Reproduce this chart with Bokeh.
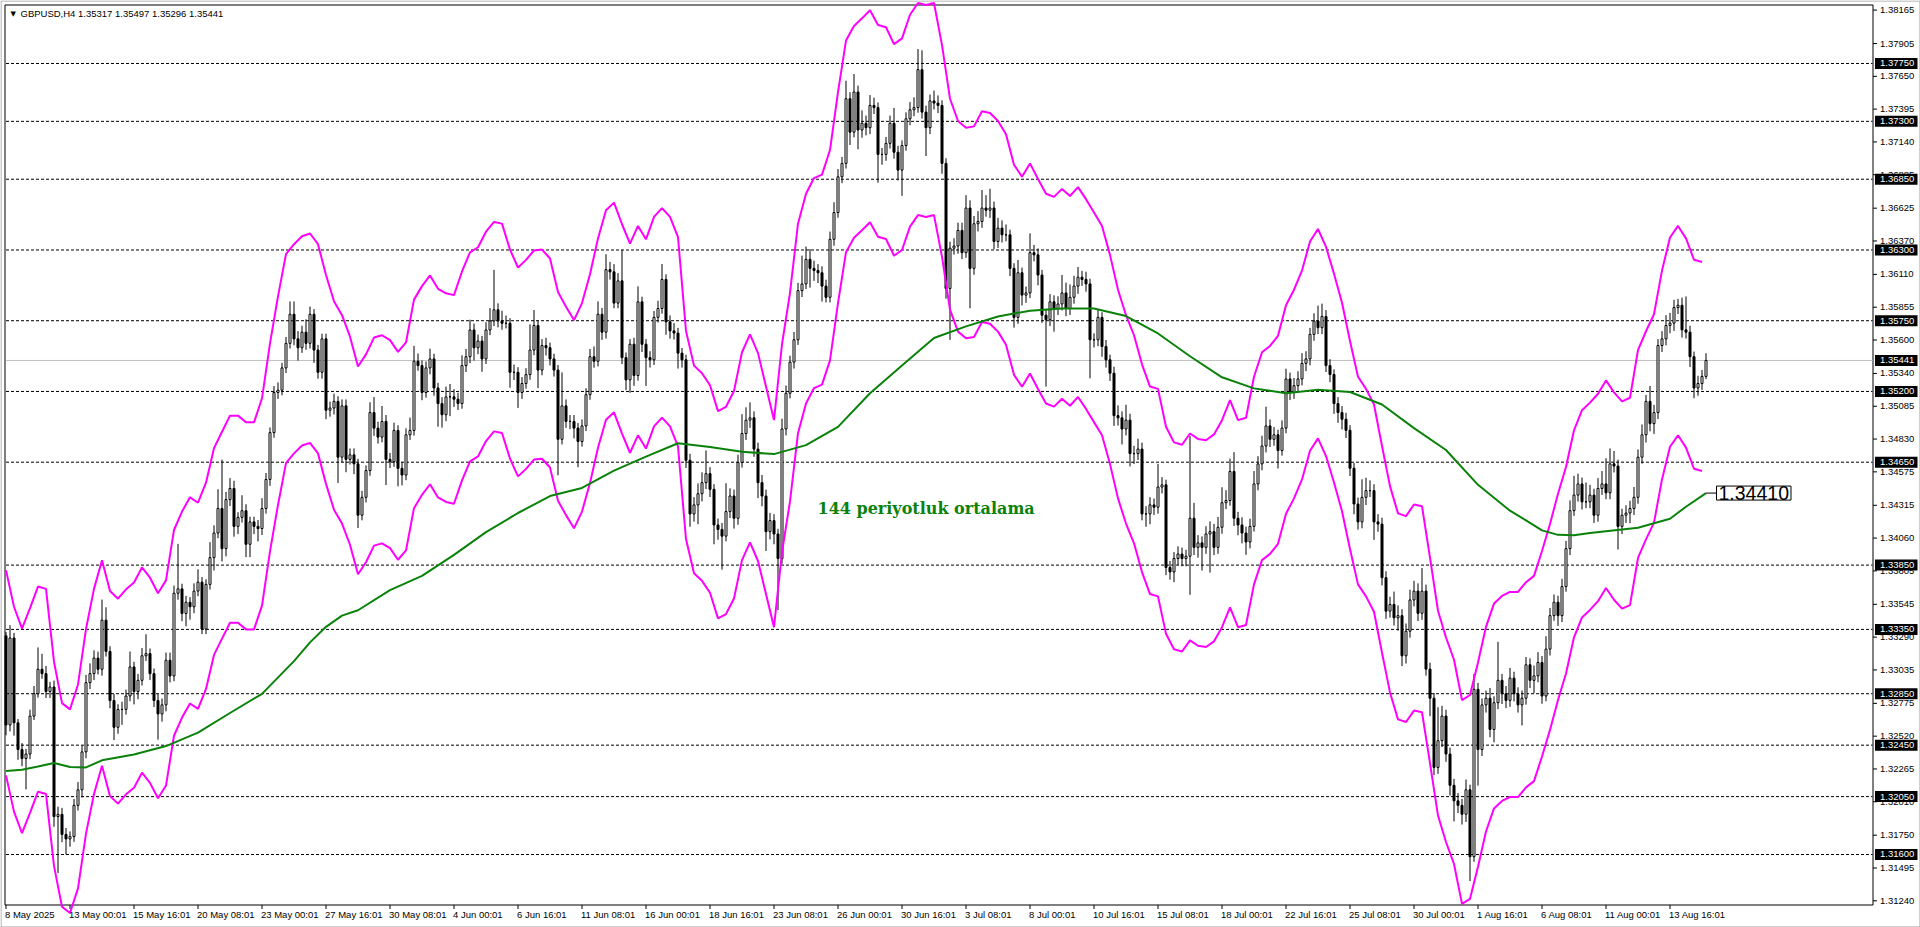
from bokeh.plotting import figure
from bokeh.models import Range1d, Label, LabelSet, ColumnDataSource
from bokeh.core.properties import value
from bokeh.embed import file_html
from bokeh.resources import INLINE

# ---------------- data ----------------
symbol = "GBPUSD,H4"
first_open = 1.33300
closes = [
    1.32607, 1.33283, 1.32624, 1.32416, 1.32346, 1.32381, 1.32676, 1.32850, 1.33040, 1.33006,
    1.32867, 1.32902, 1.31895, 1.31912, 1.31756, 1.31721, 1.31739, 1.31982, 1.32103, 1.32398,
    1.32936, 1.33006, 1.33127, 1.33040, 1.33422, 1.33179, 1.32797, 1.32589, 1.32728, 1.32728,
    1.32832, 1.33058, 1.32867, 1.32954, 1.33145, 1.33162, 1.33006, 1.32797, 1.32693, 1.32763,
    1.33110, 1.32988, 1.33631, 1.33665, 1.33474, 1.33561, 1.33526, 1.33648, 1.33717, 1.33353,
    1.33700, 1.33908, 1.34099, 1.34290, 1.33978, 1.34359, 1.34446, 1.34151, 1.34221, 1.34273,
    1.34012, 1.34186, 1.34151, 1.34134, 1.34290, 1.34516, 1.34880, 1.35192, 1.35210, 1.35383,
    1.35574, 1.35800, 1.35609, 1.35540, 1.35661, 1.35574, 1.35800, 1.35522, 1.35349, 1.35609,
    1.35054, 1.35071, 1.35123, 1.34689, 1.35088, 1.34672, 1.34707, 1.34637, 1.34238, 1.34377,
    1.34585, 1.35036, 1.34915, 1.34845, 1.34967, 1.34672, 1.34654, 1.34897, 1.34602, 1.34550,
    1.34863, 1.34897, 1.35435, 1.35401, 1.35192, 1.35383, 1.35453, 1.35227, 1.35106, 1.35019,
    1.35158, 1.35158, 1.35140, 1.35106, 1.35401, 1.35470, 1.35678, 1.35540, 1.35592, 1.35453,
    1.35678, 1.35748, 1.35835, 1.35748, 1.35730, 1.35730, 1.35349, 1.35349, 1.35192, 1.35262,
    1.35331, 1.35522, 1.35713, 1.35366, 1.35557, 1.35540, 1.35453, 1.35366, 1.34828, 1.35088,
    1.34967, 1.34967, 1.34915, 1.34811, 1.34932, 1.35175, 1.35470, 1.35435, 1.35800, 1.35661,
    1.36147, 1.36130, 1.35887, 1.36060, 1.35463, 1.35290, 1.35567, 1.35324, 1.35897, 1.35567,
    1.35463, 1.35446, 1.35776, 1.35845, 1.36071, 1.35741, 1.35671, 1.35654, 1.35498, 1.35446,
    1.34665, 1.34248, 1.34318, 1.34405, 1.34491, 1.34561, 1.34439, 1.34162, 1.34127, 1.34075,
    1.34266, 1.34387, 1.34214, 1.34648, 1.34873, 1.34977, 1.34995, 1.34752, 1.34491, 1.34387,
    1.34110, 1.34196, 1.34092, 1.33901, 1.34908, 1.35186, 1.35428, 1.35602, 1.35984, 1.36036,
    1.36227, 1.36157, 1.36140, 1.36123, 1.36019, 1.35932, 1.36383, 1.36591, 1.36869, 1.36973,
    1.37476, 1.37216, 1.37528, 1.37233, 1.37285, 1.37251, 1.37424, 1.37407, 1.37043, 1.37043,
    1.37129, 1.37285, 1.37060, 1.36921, 1.37112, 1.37320, 1.37390, 1.37407, 1.37702, 1.37372,
    1.37251, 1.37459, 1.37442, 1.37424, 1.36973, 1.36001, 1.36314, 1.36331, 1.36452, 1.36279,
    1.36626, 1.36157, 1.36504, 1.36522, 1.36626, 1.36609, 1.36626, 1.36366, 1.36470, 1.36418,
    1.36418, 1.36157, 1.35776, 1.36123, 1.35949, 1.35966, 1.36279, 1.36262, 1.36105, 1.35793,
    1.35758, 1.35897, 1.35845, 1.35880, 1.35966, 1.35845, 1.35932, 1.36019, 1.36088, 1.36071,
    1.36036, 1.35602, 1.35602, 1.35776, 1.35550, 1.35446, 1.35342, 1.35012, 1.34995, 1.34908,
    1.34977, 1.34717, 1.34717, 1.34752, 1.34248, 1.34248, 1.34318, 1.34300, 1.34457, 1.34474,
    1.33832, 1.33797, 1.33901, 1.33936, 1.33901, 1.33919, 1.34214, 1.33988, 1.34023, 1.33988,
    1.34092, 1.34110, 1.33988, 1.34144, 1.34335, 1.34352, 1.34578, 1.34214, 1.34162, 1.34099,
    1.34030, 1.34151, 1.34481, 1.34637, 1.34776, 1.34932, 1.34828, 1.34863, 1.34741, 1.34915,
    1.35297, 1.35193, 1.35245, 1.35297, 1.35418, 1.35453, 1.35644, 1.35748, 1.35696, 1.35783,
    1.35401, 1.35332, 1.35106, 1.35036, 1.34984, 1.34898, 1.34603, 1.34325, 1.34186, 1.34377,
    1.34429, 1.34429, 1.34186, 1.34169, 1.33752, 1.33492, 1.33544, 1.33440, 1.33457, 1.33145,
    1.33336, 1.33579, 1.33648, 1.33475, 1.33648, 1.33041, 1.32815, 1.32277, 1.32485, 1.32676,
    1.32381, 1.32138, 1.32017, 1.31982, 1.31913, 1.32103, 1.31583, 1.32884, 1.32416, 1.32763,
    1.32815, 1.32572, 1.32780, 1.32954, 1.32850, 1.32798, 1.32971, 1.32850, 1.32763, 1.32815,
    1.33075, 1.32954, 1.32989, 1.33093, 1.32832, 1.33197, 1.33457, 1.33561, 1.33457, 1.33683,
    1.33978, 1.34273, 1.34394, 1.34481, 1.34342, 1.34342, 1.34394, 1.34238, 1.34446, 1.34481,
    1.34412, 1.34637, 1.34620, 1.34151, 1.34238, 1.34255, 1.34290, 1.34377, 1.34689, 1.34863,
    1.35123, 1.34950, 1.35036, 1.35557, 1.35609, 1.35713, 1.35731, 1.35852, 1.35870, 1.35679,
    1.35661, 1.35470, 1.35227, 1.35262, 1.35317, 1.35441,
]
wick_up_pips = [
    3, 10, 4, 3, 5, 4, 5, 6, 17, 12, 6, 4, 5, 6, 5, 5, 4, 5, 6, 5,
    6, 8, 6, 5, 16, 10, 4, 5, 4, 6, 5, 12, 4, 5, 6, 15, 4, 4, 5, 5,
    6, 6, 6, 35, 4, 5, 4, 6, 10, 4, 4, 12, 6, 15, 38, 6, 8, 6, 4, 12,
    5, 4, 4, 5, 8, 5, 4, 5, 6, 4, 5, 10, 10, 6, 5, 10, 6, 4, 4, 4,
    4, 5, 6, 4, 5, 5, 5, 5, 4, 5, 4, 8, 12, 5, 12, 5, 5, 6, 4, 5,
    5, 10, 12, 6, 4, 5, 8, 4, 4, 5, 8, 10, 6, 5, 8, 6, 8, 5, 5, 4,
    6, 10, 31, 5, 8, 6, 4, 6, 4, 5, 5, 20, 12, 4, 5, 6, 4, 4, 4, 26,
    5, 5, 5, 4, 5, 5, 6, 8, 10, 5, 12, 6, 6, 6, 24, 4, 4, 5, 12, 4,
    4, 5, 5, 6, 12, 4, 5, 6, 4, 4, 4, 5, 6, 8, 8, 18, 5, 4, 5, 5,
    22, 6, 5, 6, 15, 10, 12, 5, 5, 6, 5, 6, 5, 4, 8, 6, 5, 6, 6, 22,
    10, 8, 6, 5, 5, 5, 6, 8, 6, 5, 14, 5, 14, 5, 10, 6, 8, 6, 4, 5,
    5, 6, 12, 5, 4, 5, 6, 8, 16, 15, 5, 5, 8, 6, 4, 4, 5, 6, 6, 6,
    10, 6, 6, 8, 14, 10, 15, 5, 8, 6, 8, 4, 4, 10, 4, 5, 15, 6, 5, 4,
    5, 6, 5, 6, 14, 8, 10, 8, 8, 5, 6, 4, 5, 6, 4, 5, 4, 5, 8, 5,
    12, 5, 6, 8, 5, 6, 6, 5, 18, 6, 4, 5, 5, 6, 5, 5, 64, 12, 6, 5,
    6, 8, 6, 8, 12, 8, 10, 15, 5, 6, 5, 6, 10, 6, 8, 15, 5, 6, 4, 6,
    8, 5, 6, 6, 8, 6, 5, 6, 12, 10, 5, 5, 4, 5, 5, 5, 4, 4, 5, 14,
    10, 8, 5, 6, 5, 5, 6, 10, 8, 5, 6, 8, 8, 6, 18, 5, 5, 4, 26, 8,
    5, 5, 5, 6, 5, 8, 4, 12, 5, 5, 6, 8, 5, 30, 5, 6, 8, 5, 5, 6,
    6, 5, 8, 8, 5, 10, 6, 6, 5, 6, 6, 8, 15, 8, 5, 15, 8, 5, 8, 10,
    20, 12, 10, 5, 5, 6, 6, 8, 6, 8, 5, 12, 6, 5, 6, 8, 8, 6, 5, 6,
    26, 5, 4, 6, 5, 5.6,
]
wick_down_pips = [
    8, 5, 10, 8, 6, 24, 4, 3, 3, 4, 5, 5, 8, 44, 6, 12, 6, 4, 4, 6,
    5, 5, 5, 4, 5, 4, 6, 10, 5, 12, 4, 4, 10, 6, 4, 4, 5, 5, 20, 6,
    5, 5, 4, 5, 6, 10, 10, 5, 4, 4, 4, 4, 10, 4, 10, 6, 5, 8, 6, 4,
    10, 10, 6, 10, 5, 4, 5, 4, 5, 4, 4, 4, 5, 10, 4, 5, 4, 10, 5, 5,
    7, 5, 5, 20, 4, 10, 4, 8, 10, 4, 4, 4, 6, 5, 4, 20, 5, 4, 14, 8,
    4, 4, 4, 4, 6, 4, 5, 6, 18, 10, 5, 15, 6, 5, 4, 5, 5, 10, 5, 10,
    4, 4, 4, 5, 5, 4, 12, 6, 12, 5, 4, 4, 4, 14, 4, 6, 5, 5, 28, 4,
    5, 6, 8, 20, 4, 4, 4, 5, 4, 6, 5, 6, 4, 4, 5, 8, 10, 8, 4, 6,
    22, 6, 4, 4, 4, 10, 6, 5, 12, 6, 6, 10, 6, 15, 6, 5, 6, 15, 8, 26,
    4, 5, 8, 5, 4, 5, 6, 6, 12, 8, 15, 6, 8, 40, 4, 5, 4, 5, 4, 5,
    4, 15, 8, 8, 12, 4, 4, 5, 4, 5, 4, 10, 4, 15, 6, 6, 5, 5, 22, 8,
    5, 4, 5, 8, 20, 4, 5, 5, 4, 5, 22, 5, 5, 6, 8, 8, 40, 5, 6, 5,
    4, 31, 5, 6, 5, 5, 6, 6, 5, 6, 5, 6, 8, 5, 8, 6, 4, 5, 8, 6,
    52, 5, 18, 5, 5, 6, 5, 5, 6, 5, 6, 30, 6, 5, 8, 6, 6, 8, 6, 12,
    5, 10, 8, 5, 5, 10, 8, 6, 5, 5, 6, 6, 8, 5, 6, 6, 30, 6, 8, 18,
    5, 30, 6, 5, 5, 5, 4, 6, 8, 8, 10, 5, 4, 5, 5, 5, 6, 5, 14, 4,
    4, 6, 5, 5, 5, 6, 5, 5, 5, 5, 5, 6, 8, 8, 8, 6, 6, 8, 6, 5,
    6, 5, 14, 6, 6, 6, 5, 6, 10, 8, 6, 5, 5, 6, 5, 5, 14, 6, 5, 5,
    6, 8, 16, 6, 8, 6, 19, 4, 28, 5, 6, 6, 10, 5, 8, 6, 5, 6, 6, 16,
    5, 6, 10, 5, 6, 4, 5, 4, 8, 5, 4, 5, 4, 5, 6, 5, 5, 6, 5, 5,
    5, 5, 5, 18, 6, 6, 8, 5, 5, 5, 6, 6, 8, 5, 5, 5, 6, 6, 5, 6,
    5, 8, 8, 6, 5, 2.1,
]
# envelope (upper line read every 2 bars, deviation 0.6 %)
envelope_step = 2
envelope_upper = [
    1.33811, 1.33526, 1.33356, 1.33516, 1.33683, 1.33665, 1.33099, 1.32777, 1.32728, 1.32922,
    1.33353, 1.33665, 1.33887, 1.33648, 1.33589, 1.33662, 1.33714, 1.33832, 1.33752, 1.33631,
    1.33731, 1.34123, 1.34266, 1.34377, 1.34335, 1.34491, 1.34759, 1.34887, 1.35012, 1.35012,
    1.34960, 1.34960, 1.35147, 1.35574, 1.35939, 1.36268, 1.36345, 1.36407, 1.36428, 1.36345,
    1.36105, 1.35901, 1.35793, 1.35626, 1.35394, 1.35488, 1.35619, 1.35637, 1.35599, 1.35508,
    1.35581, 1.35914, 1.36019, 1.36102, 1.35998, 1.35963, 1.35949, 1.36133, 1.36282, 1.36321,
    1.36442, 1.36518, 1.36505, 1.36303, 1.36164, 1.36223, 1.36296, 1.36303, 1.36234, 1.35973,
    1.35859, 1.35755, 1.35887, 1.36112, 1.36390, 1.36609, 1.36668, 1.36500, 1.36350, 1.36487,
    1.36383, 1.36557, 1.36626, 1.36557, 1.36400, 1.35671, 1.35401, 1.35342, 1.35248, 1.35047,
    1.35081, 1.35203, 1.35505, 1.35644, 1.35498, 1.35238, 1.34977, 1.35567, 1.35967, 1.36504,
    1.36737, 1.36859, 1.36886, 1.37077, 1.37528, 1.37928, 1.38042, 1.38101, 1.38164, 1.38049,
    1.38032, 1.37900, 1.37945, 1.38129, 1.38220, 1.38205, 1.38220, 1.37893, 1.37476, 1.37303,
    1.37251, 1.37261, 1.37379, 1.37365, 1.37303, 1.37199, 1.36963, 1.36869, 1.36973, 1.36852,
    1.36737, 1.36713, 1.36775, 1.36720, 1.36789, 1.36695, 1.36591, 1.36487, 1.36262, 1.35991,
    1.35793, 1.35637, 1.35411, 1.35238, 1.35220, 1.34925, 1.34804, 1.34786, 1.34873, 1.34831,
    1.34821, 1.34866, 1.34977, 1.35133, 1.34977, 1.34995, 1.35314, 1.35505, 1.35554, 1.35633,
    1.35870, 1.35991, 1.36140, 1.36366, 1.36463, 1.36324, 1.36116, 1.35890, 1.35592, 1.35314,
    1.35220, 1.35099, 1.34776, 1.34464, 1.34252, 1.34231, 1.34321, 1.34308, 1.33908, 1.33495,
    1.33287, 1.33114, 1.32800, 1.32840, 1.33093, 1.33370, 1.33551, 1.33610, 1.33641, 1.33641,
    1.33717, 1.33766, 1.33960, 1.34169, 1.34405, 1.34613, 1.34898, 1.35054, 1.35113, 1.35182,
    1.35286, 1.35193, 1.35123, 1.35151, 1.35522, 1.35668, 1.35800, 1.36140, 1.36397, 1.36487,
    1.36390, 1.36224, 1.36206,
]
envelope_deviation = 0.006
# 144-period moving average
ma_bars = [0, 4, 8, 12, 16, 20, 24, 32, 40, 48, 56, 64, 72, 76, 80, 84, 88, 96, 104, 112, 120,
           128, 136, 144, 152, 160, 168, 176, 184, 192, 200, 208, 216, 224, 232, 240, 248, 256,
           264, 272, 280, 288, 296, 304, 312, 320, 328, 336, 344, 352, 360, 368, 376, 380, 384,
           388, 392, 396, 400, 408, 416, 420, 425]
ma_values = [1.32249, 1.32259, 1.32284, 1.32312, 1.32280, 1.32277, 1.32332, 1.32377, 1.32443,
             1.32548, 1.32700, 1.32849, 1.33103, 1.33249, 1.33370, 1.33457, 1.33499, 1.33655,
             1.33766, 1.33929, 1.34106, 1.34255, 1.34387, 1.34450, 1.34585, 1.34693, 1.34797,
             1.34769, 1.34731, 1.34713, 1.34783, 1.34925, 1.35186, 1.35401, 1.35616, 1.35706,
             1.35783, 1.35828, 1.35845, 1.35845, 1.35786, 1.35651, 1.35474, 1.35310, 1.35224,
             1.35186, 1.35213, 1.35196, 1.35099, 1.34915, 1.34745, 1.34474, 1.34273, 1.34197,
             1.34120, 1.34085, 1.34082, 1.34099, 1.34113, 1.34141, 1.34210, 1.34304, 1.34410]
price_ticks = [1.38165, 1.37905, 1.37650, 1.37395, 1.37140, 1.36885, 1.36625, 1.36370, 1.36110,
               1.35855, 1.35600, 1.35340, 1.35085, 1.34830, 1.34575, 1.34315, 1.34060, 1.33805,
               1.33545, 1.33290, 1.33035, 1.32775, 1.32520, 1.32265, 1.32010, 1.31750, 1.31495,
               1.31240]
level_lines = [1.37750, 1.37300, 1.36850, 1.36300, 1.35750, 1.35200, 1.34650, 1.33850,
               1.33350, 1.32850, 1.32450, 1.32050, 1.31600]
bid_price = 1.35441
date_step = 16
date_labels = ["8 May 2025", "13 May 00:01", "15 May 16:01", "20 May 08:01", "23 May 00:01",
               "27 May 16:01", "30 May 08:01", "4 Jun 00:01", "6 Jun 16:01", "11 Jun 08:01",
               "16 Jun 00:01", "18 Jun 16:01", "23 Jun 08:01", "26 Jun 00:01", "30 Jun 16:01",
               "3 Jul 08:01", "8 Jul 00:01", "10 Jul 16:01", "15 Jul 08:01", "18 Jul 00:01",
               "22 Jul 16:01", "25 Jul 08:01", "30 Jul 00:01", "1 Aug 16:01", "6 Aug 08:01",
               "11 Aug 00:01", "13 Aug 16:01"]
ma_caption = "144 periyotluk ortalama"

# ---------------- derived series ----------------
n = len(closes)
assert len(wick_up_pips) == n and len(wick_down_pips) == n
assert len(ma_bars) == len(ma_values)
pip = 0.0001
opens = [first_open] + closes[:-1]
highs = [max(o, c) + u * pip for o, c, u in zip(opens, closes, wick_up_pips)]
lows = [min(o, c) - d * pip for o, c, d in zip(opens, closes, wick_down_pips)]
bars = list(range(n))
env_bars = [k * envelope_step for k in range(len(envelope_upper))]
env_lower = [u * (1 - envelope_deviation) / (1 + envelope_deviation) for u in envelope_upper]

# ---------------- layout (pixel calibration of the chart window) ----------------
W, H = 1920, 927
BAR_X0, BAR_DX = 5.5, 4.0            # pixel of bar 0 centre, pixels per bar
P_REF, P_Y, PPU = 1.38165, 9.6, 12862.0


def xd(px):
    return (px - BAR_X0) / BAR_DX


def yd(py):
    return P_REF - (py - P_Y) / PPU


FL, FT, FR, FB = 4.5, 4.5, 1872.5, 904.5   # chart frame (pixel centres)

p = figure(width=W, height=H, output_backend="svg", toolbar_location=None,
           x_range=Range1d(xd(0), xd(W)), y_range=Range1d(yd(H), yd(0)),
           x_axis_type=None, y_axis_type=None, min_border=0)
p.xgrid.visible = False
p.ygrid.visible = False
p.outline_line_color = None
p.background_fill_color = "white"
p.border_fill_color = "white"

# window border and chart frame
p.segment(x0=[xd(0.5), xd(0.5), xd(1919.5), xd(0.5)],
          y0=[yd(0.5), yd(0.5), yd(0.5), yd(926.5)],
          x1=[xd(1919.5), xd(0.5), xd(1919.5), xd(1919.5)],
          y1=[yd(0.5), yd(926.5), yd(926.5), yd(926.5)],
          line_color="#a0a0a0", line_width=1)
p.segment(x0=[xd(FL), xd(FL), xd(FR), xd(FL)], y0=[yd(FT), yd(FT), yd(FT), yd(FB)],
          x1=[xd(FR), xd(FL), xd(FR), xd(FR)], y1=[yd(FT), yd(FB), yd(FB), yd(FB)],
          line_color="black", line_width=1)

# axis tick marks
p.segment(x0=[xd(FR)] * len(price_ticks), y0=price_ticks,
          x1=[xd(FR + 4)] * len(price_ticks), y1=price_ticks, line_color="black", line_width=1)
date_ticks = [k * date_step for k in range(len(date_labels))]
p.segment(x0=date_ticks, y0=[yd(FB)] * len(date_ticks), x1=date_ticks,
          y1=[yd(FB + 4)] * len(date_ticks), line_color="black", line_width=1)

# horizontal levels and bid line
p.segment(x0=[xd(FL + 1)] * len(level_lines), y0=level_lines,
          x1=[xd(FR - 0.5)] * len(level_lines), y1=level_lines,
          line_color="black", line_dash="3 2", line_width=1)
p.segment(x0=[xd(FL + 1)], y0=[bid_price], x1=[xd(FR - 0.5)], y1=[bid_price],
          line_color="#c0c0c0", line_width=1)

# candles
src = ColumnDataSource(dict(
    x=bars, h=highs, l=lows,
    top=[max(o, c) for o, c in zip(opens, closes)],
    bot=[min(o, c) for o, c in zip(opens, closes)],
    fill=["white" if c >= o else "black" for o, c in zip(opens, closes)],
))
p.segment(x0="x", y0="l", x1="x", y1="h", source=src, line_color="black", line_width=1)
p.vbar(x="x", width=0.5, top="top", bottom="bot", source=src,
       fill_color="fill", line_color="black", line_width=1)

# envelope and moving average
MAG = "#ff00ff"
GRN = "#0a820a"
p.line(env_bars, envelope_upper, line_color=MAG, line_width=2)
p.line(env_bars, env_lower, line_color=MAG, line_width=2)
p.line(ma_bars, ma_values, line_color=GRN, line_width=2)

# callout of the last MA value
p.segment(x0=[ma_bars[-1]], y0=[ma_values[-1]], x1=[xd(1716)], y1=[ma_values[-1]],
          line_color="black", line_width=1)
p.add_layout(Label(x=xd(1716), y=ma_values[-1], text=f"{ma_values[-1]:.5f}",
                   text_font="Liberation Sans", text_font_size="19.5px", text_color="black",
                   text_align="left", text_baseline="middle",
                   background_fill_color="white", border_line_color="black",
                   border_line_width=1, padding=dict(left=2, right=2, top=0, bottom=0)))

# caption
p.add_layout(Label(x=xd(817), y=yd(508), text=ma_caption, text_font="DejaVu Serif",
                   text_font_style="bold", text_font_size="16px", text_color=GRN,
                   text_align="left", text_baseline="middle"))

# title
last = n - 1
title = f"{symbol}  {opens[last]:.5f} {highs[last]:.5f} {lows[last]:.5f} {closes[last]:.5f}"
p.add_layout(Label(x=xd(20), y=yd(13), text=title, text_font="Liberation Sans",
                   text_font_size="9.5px", text_color="black", text_align="left",
                   text_baseline="middle"))
p.add_layout(Label(x=xd(10), y=yd(13), text="\u25bc", text_font="DejaVu Sans",
                   text_font_size="7px", text_color="black", text_align="left",
                   text_baseline="middle"))

# price axis labels
AX_FONT = "Liberation Sans"
AX_SIZE = "9.5px"
ysrc = ColumnDataSource(dict(x=[xd(FR + 7)] * len(price_ticks), y=price_ticks,
                             t=[f"{v:.5f}" for v in price_ticks]))
p.add_layout(LabelSet(x="x", y="y", text="t", source=ysrc, text_font=value(AX_FONT),
                      text_font_size=AX_SIZE, text_color="black", text_align="left",
                      text_baseline="middle"))

# highlighted level labels: black boxes with white text
hl = level_lines + [bid_price]
half = 5.5 / PPU
p.quad(left=[xd(1874.5)] * len(hl), right=[xd(1917)] * len(hl),
       top=[v + half for v in hl], bottom=[v - half for v in hl],
       fill_color="black", line_color=None)
hsrc = ColumnDataSource(dict(x=[xd(FR + 7)] * len(hl), y=hl, t=[f"{v:.5f}" for v in hl]))
p.add_layout(LabelSet(x="x", y="y", text="t", source=hsrc, text_font=value(AX_FONT),
                      text_font_size=AX_SIZE, text_color="white", text_align="left",
                      text_baseline="middle"))

# time axis labels
xsrc = ColumnDataSource(dict(x=[t - 0.25 for t in date_ticks],
                             y=[yd(913.5)] * len(date_labels), t=date_labels))
p.add_layout(LabelSet(x="x", y="y", text="t", source=xsrc, text_font=value(AX_FONT),
                      text_font_size=AX_SIZE, text_color="black", text_align="left",
                      text_baseline="middle"))

open("out.html", "w").write(file_html(p, INLINE))
